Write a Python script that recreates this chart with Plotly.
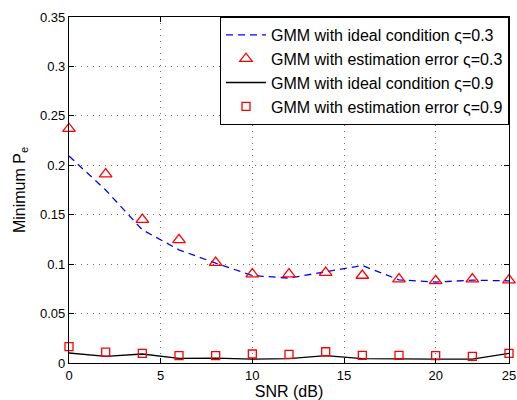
import plotly.graph_objects as go

snr = [0, 2, 4, 6, 8, 10, 12, 14, 16, 18, 20, 22, 24]
ideal_03 = [0.2094, 0.175, 0.1347, 0.1145, 0.101, 0.0885, 0.0859, 0.0925, 0.0986, 0.0841, 0.0818, 0.0838, 0.0831]
est_03 = [0.237, 0.191, 0.145, 0.1245, 0.1016, 0.090, 0.090, 0.0915, 0.0885, 0.0848, 0.0831, 0.0848, 0.0838]
ideal_09 = [0.0101, 0.0067, 0.0091, 0.0047, 0.005, 0.004, 0.0044, 0.0074, 0.0044, 0.004, 0.004, 0.004, 0.0097]
est_09 = [0.0165, 0.0111, 0.0097, 0.0074, 0.0074, 0.0091, 0.0088, 0.0114, 0.0077, 0.0077, 0.0074, 0.0067, 0.0097]

x_tickvals = [0, 5, 10, 15, 20, 24]
x_ticktext = ["0", "5", "10", "15", "20", "25"]
y_tickvals = [0, 0.05, 0.1, 0.15, 0.2, 0.25, 0.3, 0.35]
y_ticktext = ["0", "0.05", "0.1", "0.15", "0.2", "0.25", "0.3", "0.35"]

font = "Liberation Sans, Arial, sans-serif"

fig = go.Figure()
fig.add_trace(go.Scatter(x=snr, y=ideal_03, mode="lines",
                         line=dict(color="rgb(0,0,255)", width=1.3, dash="7px,5px"),
                         name="GMM with ideal condition ς=0.3"))
fig.add_trace(go.Scatter(x=snr, y=est_03, mode="markers", cliponaxis=False,
                         marker=dict(symbol="triangle-up-open", color="red", size=11, line=dict(width=1.3, color="red")),
                         name="GMM with estimation error ς=0.3"))
fig.add_trace(go.Scatter(x=snr, y=ideal_09, mode="lines",
                         line=dict(color="black", width=1.3),
                         name="GMM with ideal condition ς=0.9"))
fig.add_trace(go.Scatter(x=snr, y=est_09, mode="markers", cliponaxis=False,
                         marker=dict(symbol="square-open", color="red", size=8, line=dict(width=1.3, color="red")),
                         name="GMM with estimation error ς=0.9"))

axis_common = dict(showline=True, linecolor="black", linewidth=1.2, mirror="ticks",
                   ticks="inside", ticklen=5, tickcolor="black", automargin=False,
                   showgrid=True, gridcolor="rgb(110,110,110)", griddash="1px,5px", gridwidth=1,
                   zeroline=False, tickfont=dict(family=font, size=13, color="black"))

fig.update_xaxes(range=[0, 24], tickvals=x_tickvals, ticktext=x_ticktext,
                 title=dict(text="SNR (dB)", font=dict(family=font, size=16, color="black"), standoff=7),
                 **axis_common)
fig.update_yaxes(range=[0, 0.35], tickvals=y_tickvals, ticktext=y_ticktext,
                 title=dict(text="Minimum P<sub>e</sub>", font=dict(family=font, size=16, color="black"), standoff=10),
                 **axis_common)

fig.update_layout(width=517, height=400,
                  margin=dict(l=69, r=8, t=17, b=37),
                  plot_bgcolor="white", paper_bgcolor="white",
                  font=dict(family=font, color="black"),
                  legend=dict(x=1, y=1, xanchor="right", yanchor="top",
                              bordercolor="black", borderwidth=1, bgcolor="white",
                              font=dict(family=font, size=16, color="black"),
                              itemwidth=40, tracegroupgap=0))

fig.write_html("out.html")
